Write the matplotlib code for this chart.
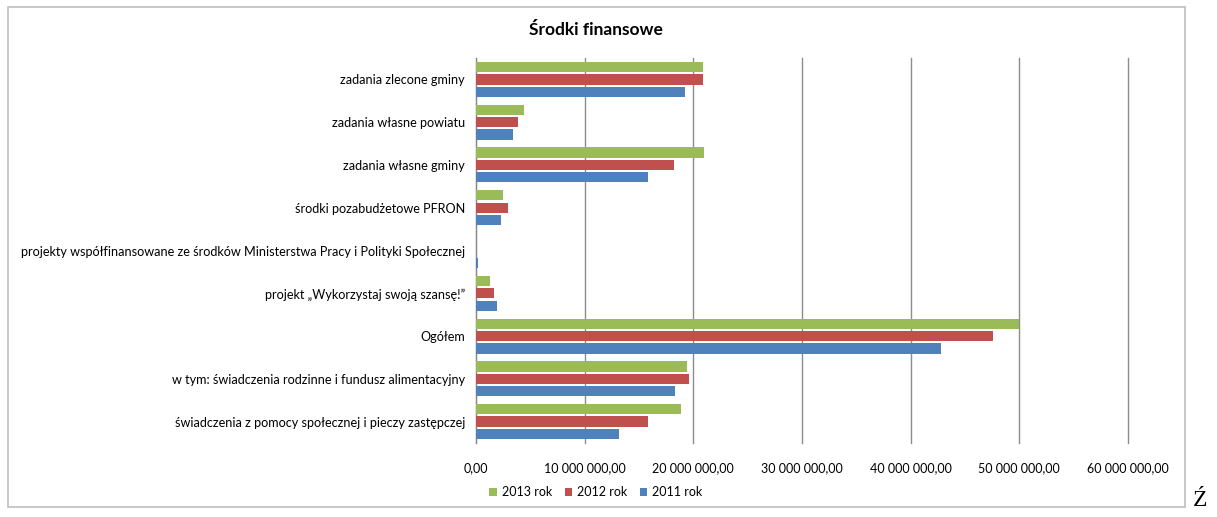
import matplotlib.pyplot as plt
import numpy as np
from matplotlib.patches import Rectangle

plt.rcParams['font.family'] = ['Lato', 'DejaVu Sans']

categories = [
    'zadania zlecone gminy',
    'zadania własne powiatu',
    'zadania własne gminy',
    'środki pozabudżetowe PFRON',
    'projekty współfinansowane ze środków Ministerstwa Pracy i Polityki Społecznej',
    'projekt „Wykorzystaj swoją szansę!”',
    'Ogółem',
    'w tym: świadczenia rodzinne i fundusz alimentacyjny',
    'świadczenia z pomocy społecznej i pieczy zastępczej',
]
rok_2013 = [20.9e6, 4.4e6, 21.0e6, 2.5e6, 0.0, 1.3e6, 50.0e6, 19.4e6, 18.9e6]
rok_2012 = [20.9e6, 3.9e6, 18.2e6, 2.9e6, 0.0, 1.7e6, 47.6e6, 19.6e6, 15.8e6]
rok_2011 = [19.2e6, 3.4e6, 15.8e6, 2.3e6, 0.15e6, 1.9e6, 42.8e6, 18.3e6, 13.2e6]
series = [('2013 rok', rok_2013, '#9BBB59'),
          ('2012 rok', rok_2012, '#C0504D'),
          ('2011 rok', rok_2011, '#4F81BD')]
xticks = [0, 10e6, 20e6, 30e6, 40e6, 50e6, 60e6]
xticklabels = ['0,00', '10 000 000,00', '20 000 000,00', '30 000 000,00',
               '40 000 000,00', '50 000 000,00', '60 000 000,00']

W, H = 1217, 517
fig = plt.figure(figsize=(W / 100, H / 100), dpi=100)
ax = fig.add_axes([476 / W, 1 - 443 / H, (1128 - 476) / W, (443 - 58) / H])

n = len(categories)
y = np.arange(n)[::-1]
h = 0.24
step = 0.29
for i, (name, vals, col) in enumerate(series):
    ax.barh(y + (1 - i) * step, vals, height=h, color=col, label=name, zorder=3)

ax.set_xlim(0, 60e6)
ax.set_ylim(-0.5, n - 0.5)
ax.set_xticks(xticks)
ax.set_xticklabels(xticklabels, fontsize=9)
ax.set_yticks(y)
ax.set_yticklabels(categories, fontsize=9.1)
ax.tick_params(axis='both', length=0, pad=8)
ax.tick_params(axis='x', pad=14)
ax.xaxis.grid(True, color='#8c8c8c', linewidth=1, zorder=0)
for line in ax.get_xgridlines():
    line.set_clip_on(False)
for s in ['top', 'right', 'bottom']:
    ax.spines[s].set_visible(False)
ax.spines['left'].set_color('#868686')

fig.text(596 / W, 1 - 30 / H, 'Środki finansowe', ha='center', va='center',
         fontsize=12.5, fontweight='bold')

fig.legend(loc='center', bbox_to_anchor=(596 / W, 1 - 492 / H), ncol=3,
           frameon=False, fontsize=9, handlelength=0.6, handleheight=0.6,
           columnspacing=1.0, handletextpad=0.4)

fig.patches.append(Rectangle((8 / W, 1 - 507 / H), (1185 - 8) / W, (507 - 7) / H,
                             transform=fig.transFigure, fill=False,
                             edgecolor='#bfbfbf', linewidth=1.2))
fig.text(1193 / W, 1 - 500 / H, 'Ź', fontsize=17, family='Liberation Serif',
         ha='left', va='center')

fig.savefig('out.png', dpi=100)
